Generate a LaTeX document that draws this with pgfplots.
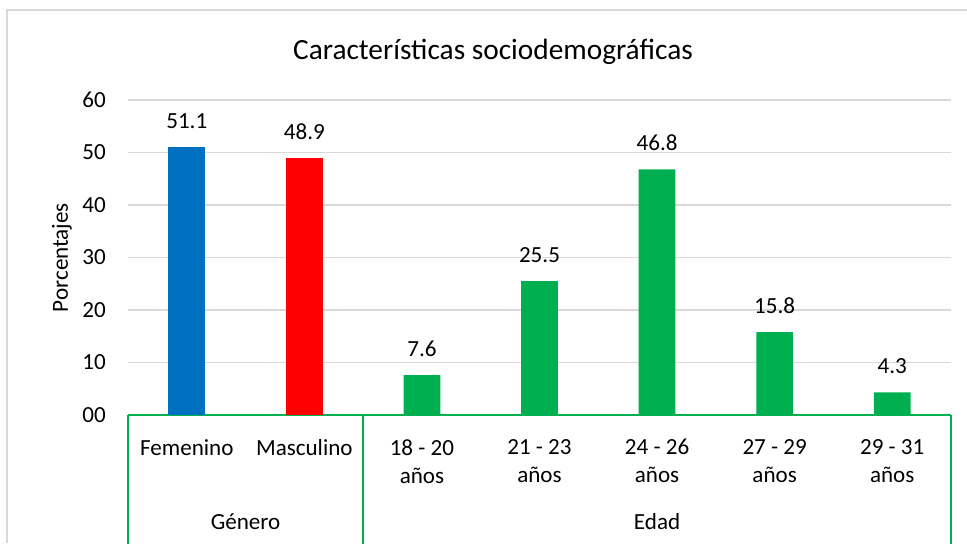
\documentclass[border=0pt]{standalone}
\usepackage{fontspec}
\setmainfont{Carlito}
\usepackage{pgfplots}
\pgfplotsset{compat=1.18}
\definecolor{cblue}{HTML}{0070C0}
\definecolor{cred}{HTML}{FF0000}
\definecolor{cgreen}{HTML}{00B050}
\definecolor{cgrid}{HTML}{D9D9D9}
\newcommand{\lblfont}{\fontsize{17.3}{21}\selectfont}
\begin{document}
\begin{tikzpicture}
\path[use as bounding box] (0,0) rectangle (725.25pt,407.25pt);
\draw[cgrid, line width=1.1pt] (5.25pt,0) -- (5.25pt,399.75pt) -- (730pt,399.75pt);
\node[font=\fontsize{22}{26}\selectfont] at (369.75pt,368.25pt) {Características sociodemográficas};
\node[font=\lblfont, rotate=90] at (46.5pt,214.1pt) {Porcentajes};
\begin{axis}[
  anchor=south west, at={(96pt,96pt)},
  scale only axis, width=617.25pt, height=236.25pt,
  ybar, bar width=27.5pt, bar shift=0pt,
  xmin=-0.5, xmax=6.5, ymin=0, ymax=60,
  xtick={0,1,2,3,4,5,6},
  xticklabels={Femenino, Masculino, 18 - 20\\años, 21 - 23\\años, 24 - 26\\años, 27 - 29\\años, 29 - 31\\años},
  ytick={0,10,20,30,40,50,60},
  yticklabels={00,10,20,30,40,50,60},
  major tick length=0pt,
  axis x line*=bottom, axis y line*=left,
  x axis line style={cgreen, line width=1.5pt, -},
  y axis line style={draw=none},
  ymajorgrids, grid style={cgrid, line width=1.1pt},
  xticklabel style={font=\lblfont, anchor=north, align=center, inner sep=0pt, yshift=-18pt},
  yticklabel style={font=\lblfont, anchor=east, inner sep=0pt, xshift=-16.5pt},
  nodes near coords,
  nodes near coords style={font=\lblfont, anchor=south, inner sep=0pt, yshift=13.5pt},
  point meta=explicit symbolic,
  clip=false,
]
\addplot[fill=cblue, draw=none] coordinates {(0,51.1) [51.1]};
\addplot[fill=cred, draw=none] coordinates {(1,48.9) [48.9]};
\addplot[fill=cgreen, draw=none] coordinates {(2,7.6) [7.6] (3,25.5) [25.5] (4,46.8) [46.8] (5,15.8) [15.8] (6,4.3) [4.3]};
\draw[cgreen, line width=1.5pt] (axis cs:-0.5,0) -- ++(0pt,-110pt);
\draw[cgreen, line width=1.5pt] (axis cs:1.5,0) -- ++(0pt,-110pt);
\draw[cgreen, line width=1.5pt] (axis cs:6.5,0) -- ++(0pt,-110pt);
\node[font=\lblfont] at (axis cs:0.5,0) [yshift=-80.25pt] {Género};
\node[font=\lblfont] at (axis cs:4,0) [yshift=-80.25pt] {Edad};
\end{axis}
\end{tikzpicture}
\end{document}
